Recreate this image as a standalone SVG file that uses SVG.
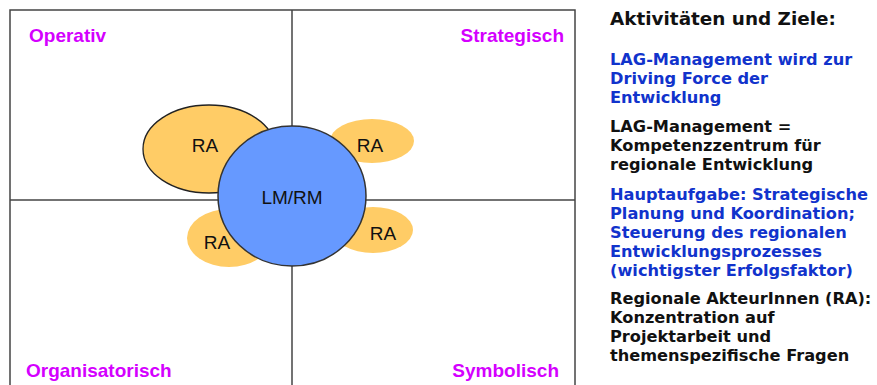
<svg xmlns="http://www.w3.org/2000/svg" width="877" height="385" viewBox="0 0 877 385">
<style>
.frame{fill:none;stroke:#444;stroke-width:1.5}
.ra{fill:#FFCC66}
.q{font-family:"Liberation Sans",Arial,sans-serif;font-weight:bold;font-size:19px;fill:#D400FF}
.lbl{font-family:"Liberation Sans",Arial,sans-serif;font-size:19px;fill:#111;text-anchor:middle}
.t{font-family:"DejaVu Sans",Verdana,sans-serif;font-weight:bold;font-size:16.2px}
.b{fill:#1133CC}
.k{fill:#111}
</style>
<rect width="877" height="385" fill="#fff"/>
<g id="frame">
<rect class="frame" x="10" y="10" width="565" height="395"/>
<line class="frame" x1="292" y1="10" x2="292" y2="395"/>
<line class="frame" x1="10" y1="200" x2="575" y2="200"/>
</g>
<g id="quadrant-labels">
<text class="q" x="29" y="42">Operativ</text>
<text class="q" x="564" y="42" text-anchor="end">Strategisch</text>
<text class="q" x="26" y="377">Organisatorisch</text>
<text class="q" x="559" y="377" text-anchor="end">Symbolisch</text>
</g>
<g id="ra-top-left">
<ellipse cx="209" cy="149" rx="66" ry="44" fill="#FFCC66" stroke="#222" stroke-width="1.3"/>
<text class="lbl" x="205" y="152">RA</text>
</g>
<g id="ra-top-right">
<ellipse class="ra" cx="372" cy="141" rx="42" ry="22"/>
<text class="lbl" x="370" y="152">RA</text>
</g>
<g id="ra-bottom-left">
<ellipse class="ra" cx="229" cy="238" rx="42" ry="29"/>
<text class="lbl" x="217" y="249">RA</text>
</g>
<g id="ra-bottom-right">
<ellipse class="ra" cx="373" cy="230" rx="40" ry="23"/>
<text class="lbl" x="383" y="240">RA</text>
</g>
<g id="lm-rm">
<ellipse cx="292" cy="196" rx="74" ry="70" fill="#6699FF" stroke="#333" stroke-width="1.5"/>
<text class="lbl" x="292" y="204">LM/RM</text>
</g>
<g id="connectors"></g>
<g id="side-text">
<text class="t k" x="610" y="25" style="font-size:18.4px">Aktivitäten und Ziele:</text>
<text class="t b" x="610" y="65">LAG-Management wird zur</text>
<text class="t b" x="610" y="84">Driving Force der</text>
<text class="t b" x="610" y="103">Entwicklung</text>
<text class="t k" x="610" y="132">LAG-Management =</text>
<text class="t k" x="610" y="151">Kompetenzzentrum für</text>
<text class="t k" x="610" y="170">regionale Entwicklung</text>
<text class="t b" x="610" y="200">Hauptaufgabe: Strategische</text>
<text class="t b" x="610" y="219">Planung und Koordination;</text>
<text class="t b" x="610" y="238">Steuerung des regionalen</text>
<text class="t b" x="610" y="257">Entwicklungsprozesses</text>
<text class="t b" x="610" y="276">(wichtigster Erfolgsfaktor)</text>
<text class="t k" x="610" y="304">Regionale AkteurInnen (RA):</text>
<text class="t k" x="610" y="323">Konzentration auf</text>
<text class="t k" x="610" y="342">Projektarbeit und</text>
<text class="t k" x="610" y="361">themenspezifische Fragen</text>
</g>
</svg>
